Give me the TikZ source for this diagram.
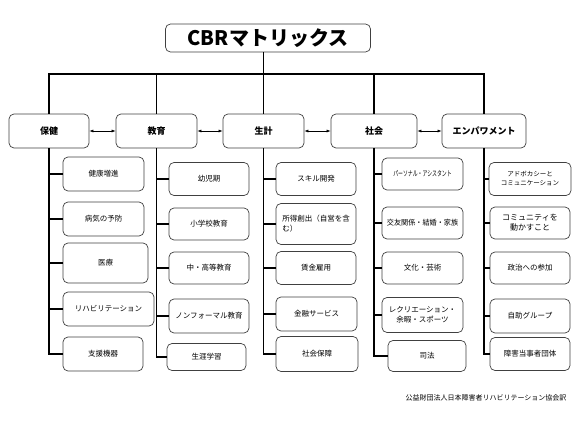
\documentclass[tikz,border=0pt]{standalone}
\usepackage{fontspec}
\setmainfont{Noto Sans CJK JP}
\usetikzlibrary{arrows.meta}
\begin{document}
\begin{tikzpicture}[x=1pt,y=-1pt,
  box/.style={draw=black!75, line width=0.7pt, rounded corners=5pt, align=center, inner sep=1pt, fill=white, text=black},
  titlebox/.style={box, font=\fontsize{20}{22}\selectfont\bfseries, minimum width=205pt, minimum height=28pt},
  cat/.style={box, font=\fontsize{9}{11}\selectfont\bfseries, minimum height=34pt},
  sub/.style={box, font=\fontsize{7.5}{10}\selectfont},
  wire/.style={line width=1.6pt, line join=miter},
  link/.style={line width=0.6pt, {Latex[length=4pt,width=3pt]}-{Latex[length=4pt,width=3pt]}},
  note/.style={font=\fontsize{7}{9}\selectfont, inner sep=0pt}
]
\useasboundingbox (0,0) rectangle (580,435);
\coordinate (bus) at (0,74);

% title
\node[titlebox] (title) at (268,38) {CBRマトリックス};

% categories
\node[cat, minimum width=80pt] (c1) at (49,131) {保健};
\node[cat, minimum width=81pt] (c2) at (156.5,131) {教育};
\node[cat, minimum width=81pt] (c3) at (263.5,131) {生計};
\node[cat, minimum width=86pt] (c4) at (374,131) {社会};
\node[cat, minimum width=84pt] (c5) at (484,131) {エンパワメント};

% health
\node[sub, minimum width=81pt, minimum height=34pt] (h1) at (103.5,174) {健康増進};
\node[sub, minimum width=81pt, minimum height=34pt] (h2) at (103.5,219) {病気の予防};
\node[sub, minimum width=85pt, minimum height=40pt] (h3) at (105.5,263) {医療};
\node[sub, minimum width=91pt, minimum height=34pt] (h4) at (108.5,309) {リハビリテーション};
\node[sub, minimum width=80pt, minimum height=34pt] (h5) at (103,354) {支援機器};

% education
\node[sub, minimum width=80pt, minimum height=33pt] (e1) at (209,179) {幼児期};
\node[sub, minimum width=80pt, minimum height=32pt] (e2) at (209,224) {小学校教育};
\node[sub, minimum width=80pt, minimum height=32pt] (e3) at (209,268) {中・高等教育};
\node[sub, minimum width=80pt, minimum height=34pt] (e4) at (209,316) {ノンフォーマル教育};
\node[sub, minimum width=79pt, minimum height=27pt] (e5) at (206.5,357) {生涯学習};

% livelihood
\node[sub, minimum width=80pt, minimum height=33pt] (l1) at (316,179) {スキル開発};
\node[sub, minimum width=80pt, minimum height=41pt, align=left] (l2) at (316,224) {所得創出（自営を含\\む）};
\node[sub, minimum width=80pt, minimum height=33pt] (l3) at (316,268) {賃金雇用};
\node[sub, minimum width=81pt, minimum height=34pt] (l4) at (316.5,314) {金融サービス};
\node[sub, minimum width=82pt, minimum height=35pt] (l5) at (317,354) {社会保障};

% social
\node[sub, minimum width=81pt, minimum height=32pt] (s1) at (422.5,174) {\scalebox{0.65}[1]{パーソナル・アシスタント}};
\node[sub, minimum width=81pt, minimum height=32pt] (s2) at (422.5,223) {\scalebox{0.95}[1]{交友関係・結婚・家族}};
\node[sub, minimum width=81pt, minimum height=32pt] (s3) at (422.5,268) {文化・芸術};
\node[sub, minimum width=81pt, minimum height=35pt] (s4) at (422.5,315) {レクリエーション・\\余暇・スポーツ};
\node[sub, minimum width=78pt, minimum height=31pt] (s5) at (427,356) {司法};

% empowerment
\node[sub, minimum width=82pt, minimum height=33pt, font=\fontsize{6.5}{9}\selectfont] (p1) at (530,179) {アドボカシーと\\コミュニケーション};
\node[sub, minimum width=80pt, minimum height=32pt, font=\fontsize{8}{10}\selectfont] (p2) at (530,223) {コミュニティを\\動かすこと};
\node[sub, minimum width=80pt, minimum height=32pt] (p3) at (530,268) {政治への参加};
\node[sub, minimum width=80pt, minimum height=34pt] (p4) at (530,316) {自助グループ};
\node[sub, minimum width=80pt, minimum height=33pt] (p5) at (530,354) {障害当事者団体};

% footer
\node[note] (foot) at (486,398) {公益財団法人日本障害者リハビリテーション協会訳};

% bus
\draw[wire] (title.south -| c3.north) -- (c3.north);
\draw[wire] (c1.north) -- (c1.north |- bus) -- (c5.north |- bus) -- (c5.north);
\draw[wire] (c2.north) -- (c2.north |- bus);
\draw[wire] (c4.north) -- (c4.north |- bus);

% spines and stubs
\foreach \c/\p in {c1/h, c2/e, c3/l, c4/s, c5/p}{
  \draw[wire] (\c.south) -- (\c.south |- \p5.west) -- (\p5.west);
  \foreach \i in {1,2,3,4}{
    \draw[wire] (\c.south |- \p\i.west) -- (\p\i.west);
  }
}

% arrows between categories
\draw[link] (c1.east) -- (c2.west);
\draw[link] (c2.east) -- (c3.west);
\draw[link] (c3.east) -- (c4.west);
\draw[link] (c4.east) -- (c5.west);
\end{tikzpicture}
\end{document}
